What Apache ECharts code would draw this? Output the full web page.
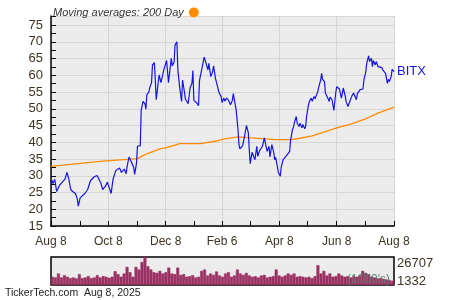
<!DOCTYPE html>
<html><head><meta charset="utf-8">
<script src="https://cdn.jsdelivr.net/npm/echarts@6/dist/echarts.min.js"></script>
<style>html,body{margin:0;padding:0;background:#fff}#c{width:450px;height:300px}</style>
</head><body><div id="c"></div>
<script>
// x positions: days since 2024-08-08
const startDate = '2024-08-08';
const totalDays = 365;
const tickDates = ['2024-08-08','2024-09-08','2024-10-08','2024-11-08','2024-12-08','2025-01-07','2025-02-06','2025-03-08','2025-04-08','2025-05-08','2025-06-08','2025-07-08','2025-08-08'];
const labelDates = ['2024-08-08','2024-10-08','2024-12-08','2025-02-06','2025-04-08','2025-06-08','2025-08-08'];
const tickLabels = ['Aug 8','Oct 8','Dec 8','Feb 6','Apr 8','Jun 8','Aug 8'];
const yTicks = [15,20,25,30,35,40,45,50,55,60,65,70,75];

const priceDays = [0,1,2,4,6,9,12,15,17,19,21,23,26,28,29,31,33,36,39,42,44,46,49,51,53,55,58,60,62,64,66,69,73,75,78,80,81,83,86,88,89,91,92,95,96,98,100,101,102,104,105,107,108,110,111,112,114,115,117,118,120,122,123,125,127,128,129,131,132,134,135,137,138,139,140,142,143,145,146,148,150,151,152,155,157,158,160,163,165,167,168,170,172,173,175,177,179,181,182,184,185,187,189,191,193,194,197,199,200,201,204,206,207,208,210,211,212,214,216,217,219,220,222,223,225,227,228,230,232,233,235,237,238,239,241,242,244,245,247,248,250,252,254,255,257,258,259,261,262,264,265,267,268,270,271,272,274,275,277,278,280,281,282,284,285,287,288,289,291,292,293,295,296,297,299,300,301,303,304,306,307,309,310,311,313,314,316,317,318,320,322,323,325,326,328,329,331,332,333,335,336,338,339,341,342,343,345,346,348,349,350,352,353,355,356,358,359,360,362,363,365];
const priceValues = [28.1,28.7,27.7,28.9,25.3,27.1,28.1,29.1,31.0,28.9,25.9,25.3,24.7,23.1,20.9,23.4,23.9,24.7,25.9,28.5,28.9,29.7,30.1,30.5,27.9,25.9,26.9,28.1,26.4,24.7,28.9,31.6,32.3,31.0,32.0,30.6,32.8,35.6,33.8,32.5,30.4,33.8,38.8,39.0,49.7,52.2,51.5,49.9,54.2,54.9,56.2,57.8,63.1,63.8,58.6,52.7,57.6,60.1,57.8,58.0,61.6,61.3,64.4,57.8,57.8,65.1,62.8,64.0,69.0,70.0,61.6,56.2,56.2,52.2,58.6,55.0,52.9,52.5,51.5,56.2,57.6,61.4,52.5,51.8,50.9,58.4,58.8,65.4,63.6,61.6,63.6,59.6,61.1,62.8,59.1,58.6,54.7,53.7,51.9,53.2,52.3,53.2,52.5,51.2,52.5,54.5,49.7,43.8,39.3,38.0,39.0,41.8,43.5,45.0,42.8,37.8,33.6,37.0,36.8,34.8,38.8,35.8,37.5,37.3,38.8,41.3,40.8,37.3,38.8,35.6,39.3,37.0,34.8,35.5,32.6,30.9,29.9,32.6,34.8,34.3,35.8,36.0,37.3,40.8,43.8,44.5,45.9,47.7,45.7,44.7,45.7,44.3,45.3,44.0,44.8,47.7,51.2,52.2,53.2,52.2,53.7,53.0,53.2,55.2,56.6,58.6,60.6,58.8,58.1,54.7,54.2,52.9,52.2,53.5,52.7,51.2,49.5,54.7,56.6,57.1,55.9,53.2,54.5,56.2,53.9,52.2,50.7,50.2,51.0,53.7,54.7,54.5,52.7,54.5,54.2,55.7,55.8,55.9,58.6,61.1,63.6,65.8,64.1,65.1,62.6,64.4,63.1,64.1,62.6,63.0,62.1,62.3,61.6,61.3,60.6,57.6,58.8,58.1,59.6,61.8,61.1];

const maDays = [0,52,92,100,109,116,122,137,159,175,185,199,213,228,238,255,265,278,292,305,320,334,348,365];
const maValues = [32.8,34.3,35.1,36.3,37.3,38.0,38.3,39.6,39.6,40.3,41.0,41.6,41.3,41.0,40.8,40.8,41.2,41.9,43.2,44.4,45.5,46.9,48.7,50.5];

// volume (thousands), roughly every 2 trading days
const volumes = [7900,7200,11000,7200,9400,7900,6600,7200,6300,10400,6600,7200,8500,6600,7200,9400,7200,8500,7900,6900,7900,13200,10400,7900,11000,17300,12200,7900,17300,14800,22000,26707,17900,14800,12200,11600,13500,11000,12200,16600,11000,10400,16600,9700,10400,7900,8500,9400,7200,7900,13500,14800,9100,11000,9700,12900,9100,7900,11000,12200,7900,9100,14800,11000,9700,11600,9100,7900,8500,7200,9100,9700,7200,7900,8500,14800,9100,7900,9100,11000,9700,11000,7900,8500,7900,7200,7900,6600,8500,18900,11000,13500,9100,11000,7900,8500,11000,9100,7900,8500,7200,8500,7900,9100,13500,11600,10400,7900,7200,6300,6600,6000,5300,4700,4100];
const volMaxLabel = '26707';
const volMinLabel = '1332';

const FONT = '"Liberation Sans", Arial, sans-serif';
const LBL = '#3d3322';

const cats = [];
const t0 = Date.UTC(2024, 7, 8);
for (let i = 0; i <= totalDays; i++) {
  cats.push(new Date(t0 + i * 86400000).toISOString().slice(0, 10));
}
const price = priceDays.map((d, i) => [d, priceValues[i]]);
const ma = maDays.map((d, i) => [d, maValues[i]]);

const chart = echarts.init(document.getElementById('c'), null, {renderer: 'canvas'});
chart.setOption({
  animation: false,
  backgroundColor: '#fff',
  legend: {
    data: ['Moving averages: 200 Day'],
    left: 48, top: 2,
    align: 'right',
    icon: 'circle',
    itemWidth: 10, itemHeight: 10, itemGap: 4,
    textStyle: {fontFamily: FONT, fontSize: 11, fontStyle: 'italic', color: '#333'}
  },
  grid: [
    {left: 51, right: 56, top: 16, bottom: 74, show: true, backgroundColor: '#ececec', borderWidth: 0},
    {left: 51, right: 56, top: 257, height: 28, show: true, backgroundColor: '#ececec', borderColor: '#000', borderWidth: 1.5}
  ],
  xAxis: [
    {
      type: 'category', gridIndex: 0, data: cats, boundaryGap: false,
      axisLine: {lineStyle: {color: '#000', width: 1.5}},
      axisTick: {inside: true, length: 5, lineStyle: {color: '#000'}, interval: (i, v) => tickDates.includes(v)},
      axisLabel: {interval: (i, v) => labelDates.includes(v), formatter: v => tickLabels[labelDates.indexOf(v)],
        color: LBL, fontFamily: FONT, fontSize: 12, margin: 10},
      splitLine: {show: true, interval: (i, v) => labelDates.includes(v), lineStyle: {color: '#d6d6d6', width: 1}}
    },
    {
      type: 'category', gridIndex: 1, data: volumes.map((v, i) => i), boundaryGap: true,
      axisLine: {show: false}, axisTick: {show: false}, axisLabel: {show: false}, splitLine: {show: false}
    }
  ],
  yAxis: [
    {
      type: 'value', gridIndex: 0, min: 15, max: 77.7, interval: 5,
      axisLine: {show: true, lineStyle: {color: '#000', width: 1.5}},
      axisTick: {show: true, inside: true, length: 5, lineStyle: {color: '#000'}},
      minorTick: {show: true, splitNumber: 2, length: 5, lineStyle: {color: '#000'}},
      axisLabel: {showMaxLabel: false, color: LBL, fontFamily: FONT, fontSize: 13, margin: 8,
        formatter: v => yTicks.includes(v) ? String(v) : ''},
      splitLine: {show: true, lineStyle: {color: '#d6d6d6', width: 1}}
    },
    {
      type: 'value', gridIndex: 1, min: 0, max: 26707,
      axisLine: {show: false}, axisTick: {show: false}, axisLabel: {show: false}, splitLine: {show: false}
    }
  ],
  series: [
    {
      name: 'Moving averages: 200 Day', type: 'line', xAxisIndex: 0, yAxisIndex: 0, data: ma,
      showSymbol: false, symbol: 'none', color: '#ff8c00', lineStyle: {color: '#ff8c00', width: 1.3}, z: 2
    },
    {
      name: 'BITX', type: 'line', xAxisIndex: 0, yAxisIndex: 0, data: price,
      showSymbol: false, symbol: 'none', lineStyle: {color: '#1515e0', width: 1.2}, z: 3,
      endLabel: {show: true, formatter: 'BITX', color: '#1515e0', fontFamily: FONT, fontSize: 13, distance: 3}
    },
    {
      name: 'Volume', type: 'bar', xAxisIndex: 1, yAxisIndex: 1, data: volumes,
      barCategoryGap: '0%', itemStyle: {color: '#9b3163', borderColor: '#9b3163', borderWidth: 0.6}, silent: true
    }
  ],
  graphic: [
    {type: 'text', left: 397, top: 257, style: {text: volMaxLabel, fill: LBL, font: '13px ' + FONT}},
    {type: 'text', left: 397, top: 275, style: {text: volMinLabel, fill: LBL, font: '13px ' + FONT}},
    {type: 'text', left: 347, top: 274, z: 100, style: {text: "(1000's)", fill: 'rgba(80,120,100,0.9)', font: '12px ' + FONT}},
    {type: 'text', left: 5, top: 288, style: {text: 'TickerTech.com  Aug 8, 2025', fill: '#222', font: '10.5px ' + FONT}}
  ]
});
</script></body></html>
